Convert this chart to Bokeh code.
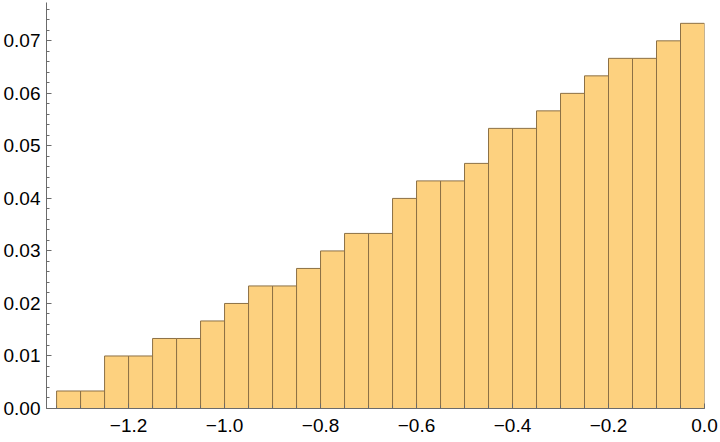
from bokeh.plotting import figure
from bokeh.models import SingleIntervalTicker, CustomJSTickFormatter, Range1d, ColumnDataSource
from bokeh.embed import file_html
from bokeh.resources import INLINE

# bin edges (left, right) of the histogram
bin_left = [-1.35, -1.30, -1.25, -1.20, -1.15, -1.10, -1.05, -1.00, -0.95,
            -0.90, -0.85, -0.80, -0.75, -0.70, -0.65, -0.60, -0.55, -0.50,
            -0.45, -0.40, -0.35, -0.30, -0.25, -0.20, -0.15, -0.10, -0.05]
bin_right = [-1.30, -1.25, -1.20, -1.15, -1.10, -1.05, -1.00, -0.95, -0.90,
             -0.85, -0.80, -0.75, -0.70, -0.65, -0.60, -0.55, -0.50, -0.45,
             -0.40, -0.35, -0.30, -0.25, -0.20, -0.15, -0.10, -0.05, 0.00]
# bar heights (probability per bin, read in units of 1/300)
counts = [1, 1, 3, 3, 4, 4, 5, 6, 7, 7, 8, 9, 10, 10, 12, 13, 13, 14,
          16, 16, 17, 18, 19, 20, 20, 21, 22]
total = 300
heights = [c / total for c in counts]

src = ColumnDataSource(dict(left=bin_left, right=bin_right, top=heights,
                            bottom=[0.0] * len(heights)))

p = figure(width=720, height=442, output_backend="svg", toolbar_location=None,
           x_range=Range1d(-1.371, 0.0), y_range=Range1d(0.0, 0.0773),
           min_border_left=46, min_border_right=16, min_border_top=2,
           min_border_bottom=34)
p.outline_line_color = None
p.xgrid.visible = False
p.ygrid.visible = False
p.background_fill_color = "white"
p.border_fill_color = "white"

p.quad(left="left", right="right", top="top", bottom="bottom", source=src,
       fill_color="#FDD17F", line_color="#8C7045", line_width=1)

font = "Liberation Sans"
axis_col = "#6b6b6b"
for ax in (p.xaxis[0], p.yaxis[0]):
    ax.axis_line_color = axis_col
    ax.major_tick_line_color = axis_col
    ax.minor_tick_line_color = axis_col
    ax.major_tick_out = 0
    ax.major_tick_in = 5
    ax.minor_tick_out = 0
    ax.minor_tick_in = 3
    ax.major_label_text_font = font
    ax.major_label_text_font_size = "19px"
    ax.major_label_text_color = "black"

p.xaxis[0].ticker = SingleIntervalTicker(interval=0.2, num_minor_ticks=4)
p.yaxis[0].ticker = SingleIntervalTicker(interval=0.01, num_minor_ticks=5)
p.xaxis[0].formatter = CustomJSTickFormatter(
    code="if (Math.abs(tick) < 1e-9) { return '0.0'; } return tick.toFixed(1).replace('-', '\u2212');")
p.yaxis[0].formatter = CustomJSTickFormatter(
    code="if (Math.abs(tick) < 1e-9) { return '0.00'; } return tick.toFixed(2);")
p.xaxis[0].major_label_standoff = 10
p.yaxis[0].major_label_standoff = 6

open("out.html", "w").write(file_html(p, INLINE))
